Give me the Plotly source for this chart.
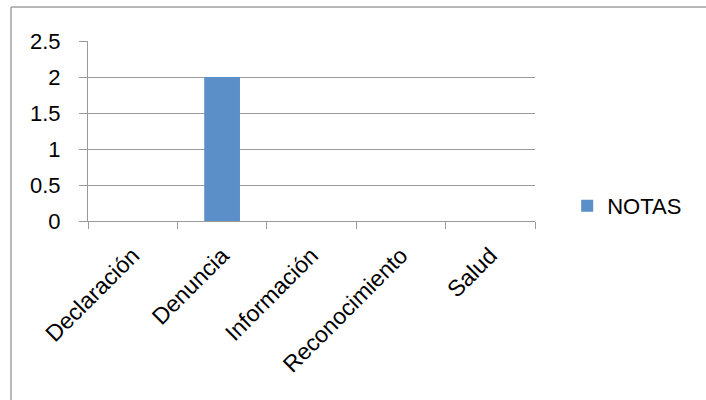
import plotly.graph_objects as go

categories = ["Declaración", "Denuncia", "Información", "Reconocimiento", "Salud"]
notas = [0, 2, 0, 0, 0]
series_name = "NOTAS"
y_ticks = [0, 0.5, 1, 1.5, 2, 2.5]

W, H = 706, 400
L, R, T, B = 88, 535, 41, 221  # plot area in pixels


def px_x(p):
    return (p - L) / (R - L)


def px_y(p):
    return (B - p) / (B - T)


family = "Liberation Sans, Arial, sans-serif"
font = dict(family=family, size=22, color="#000000")
xfont = dict(family=family, size=23, color="#000000")
grid = "#9a9a9a"

fig = go.Figure()
fig.add_trace(go.Bar(x=categories, y=notas, name=series_name,
                     marker=dict(color="#5A8FC8", line=dict(width=0))))

fig.update_layout(
    width=W, height=H,
    margin=dict(l=L, r=W - R, t=T, b=H - B, pad=0, autoexpand=False),
    paper_bgcolor="white", plot_bgcolor="white",
    font=font,
    bargap=0.6,
    showlegend=True,
    legend=dict(x=1.072, xanchor="left", y=px_y(206), yanchor="middle",
                font=font, bgcolor="rgba(0,0,0,0)", itemclick=False),
    xaxis=dict(type="category", tickson="boundaries", ticks="outside", ticklen=7,
               tickcolor=grid, showline=True, linecolor=grid, linewidth=1,
               showgrid=False, tickangle=-45, tickfont=xfont, ticklabelstandoff=11),
    yaxis=dict(range=[0, 2.5], tickvals=y_ticks, ticks="outside", ticklen=8,
               tickcolor=grid, showline=True, linecolor=grid, linewidth=1,
               showgrid=True, gridcolor=grid, gridwidth=1, zeroline=False,
               tickfont=font, ticklabelstandoff=14),
    shapes=[
        dict(type="line", xref="paper", yref="paper",
             x0=px_x(11), x1=px_x(720), y0=px_y(7), y1=px_y(7),
             line=dict(color="#a0a0a0", width=1.5)),
        dict(type="line", xref="paper", yref="paper",
             x0=px_x(11), x1=px_x(11), y0=px_y(7), y1=px_y(420),
             line=dict(color="#a0a0a0", width=1.5)),
    ],
)

fig.write_html("out.html", config={"displayModeBar": False},
               post_script="document.body.style.margin='0';document.body.style.overflow='hidden';")
